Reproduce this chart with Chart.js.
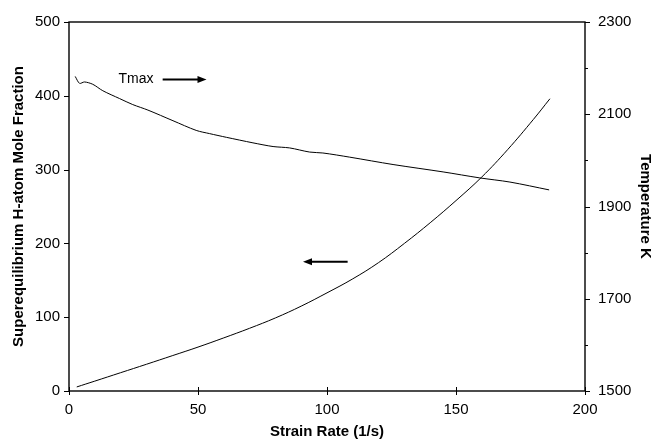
<!DOCTYPE html>
<html>
<head>
<meta charset="utf-8">
<script src="https://cdn.jsdelivr.net/npm/chart.js@4/dist/chart.umd.min.js"></script>
<style>
  html, body { margin: 0; padding: 0; background: #fff; }
  #wrap { width: 653px; height: 444px; }
</style>
</head>
<body>
<div id="wrap"><canvas id="chart" width="653" height="444"></canvas></div>
<script>
// H-atom mole fraction (left axis) vs strain rate
const strainH = [3, 10, 20, 30, 40, 50, 60, 70, 80, 90, 100, 110, 120, 130, 140, 150, 160, 170, 180, 186.4];
const hFraction = [5.5, 13.4, 24.8, 36.2, 47.8, 59.5, 72, 85, 99, 115, 133, 152, 174, 200, 228, 258, 290, 327, 368, 396];

// Max temperature (right axis) vs strain rate
const strainT = [2.4, 4.1, 6.0, 9.2, 13.1, 19.6, 24.7, 30.6, 40.3, 49.3, 54.5, 61.0, 71.3, 79.1, 85.5, 93.3, 98.4, 108.8, 125.6, 145, 159.2, 170.9, 186.1];
const tempK = [2182, 2167, 2170, 2165, 2151, 2134, 2121, 2109, 2086, 2065, 2058, 2050, 2038, 2030, 2027, 2018, 2016, 2007, 1991, 1975, 1962, 1953, 1936];

const xTicks = [0, 50, 100, 150, 200];
const yTicks = [0, 100, 200, 300, 400, 500];
const y2Ticks = [1500, 1600, 1700, 1800, 1900, 2000, 2100, 2200, 2300];

// annotations in data units (left axis)
const TMAX_LABEL = { x: 19.2, y: 422, text: "Tmax" };
const TMAX_ARROW = { from: 36.3, to: 53.3, y: 422 };
const H_ARROW = { from: 108.0, to: 90.7, y: 175 };

const FONT = "Liberation Sans, Arial, sans-serif";

const toPoints = (xs, ys) => xs.map((x, i) => ({ x, y: ys[i] }));
const isMinor = (value) => (value - 1500) % 200 !== 0;

const drawArrow = (ctx, x1, x2, y) => {
  const dir = Math.sign(x2 - x1);
  ctx.beginPath();
  ctx.moveTo(x1, y);
  ctx.lineTo(x2 - dir * 6, y);
  ctx.lineWidth = 2;
  ctx.stroke();
  ctx.beginPath();
  ctx.moveTo(x2, y);
  ctx.lineTo(x2 - dir * 9, y - 3.5);
  ctx.lineTo(x2 - dir * 9, y + 3.5);
  ctx.closePath();
  ctx.fill();
};

const framePlugin = {
  id: "frame",
  afterDraw(chart) {
    const { ctx, chartArea, scales } = chart;
    const { left, right, top, bottom } = chartArea;
    ctx.save();
    ctx.strokeStyle = "#000";
    ctx.fillStyle = "#000";
    ctx.lineWidth = 1.4;
    ctx.strokeRect(left, top, right - left, bottom - top);

    ctx.lineWidth = 1;
    ctx.beginPath();
    xTicks.forEach((v) => {
      const x = Math.round(scales.x.getPixelForValue(v)) + 0.5;
      ctx.moveTo(x, bottom - 4);
      ctx.lineTo(x, bottom + 4);
    });
    yTicks.forEach((v) => {
      const y = Math.round(scales.y.getPixelForValue(v)) + 0.5;
      ctx.moveTo(left - 5, y);
      ctx.lineTo(left, y);
    });
    y2Ticks.forEach((v) => {
      const y = Math.round(scales.y2.getPixelForValue(v)) + 0.5;
      const len = isMinor(v) ? 3 : 5;
      ctx.moveTo(right, y);
      ctx.lineTo(right + len, y);
    });
    ctx.stroke();

    // annotations
    ctx.font = `14px ${FONT}`;
    ctx.textBaseline = "middle";
    ctx.textAlign = "left";
    ctx.fillText(TMAX_LABEL.text, scales.x.getPixelForValue(TMAX_LABEL.x), scales.y.getPixelForValue(TMAX_LABEL.y));
    drawArrow(ctx, scales.x.getPixelForValue(TMAX_ARROW.from), scales.x.getPixelForValue(TMAX_ARROW.to), scales.y.getPixelForValue(TMAX_ARROW.y));
    drawArrow(ctx, scales.x.getPixelForValue(H_ARROW.from), scales.x.getPixelForValue(H_ARROW.to), scales.y.getPixelForValue(H_ARROW.y));
    ctx.restore();
  },
};

Chart.defaults.font.family = FONT;
Chart.defaults.font.size = 15;
Chart.defaults.color = "#000";

new Chart(document.getElementById("chart"), {
  type: "line",
  data: {
    datasets: [
      {
        label: "H-atom",
        data: toPoints(strainH, hFraction),
        yAxisID: "y",
        borderColor: "#000",
        borderWidth: 1,
        pointRadius: 0,
        tension: 0.4,
      },
      {
        label: "Tmax",
        data: toPoints(strainT, tempK),
        yAxisID: "y2",
        borderColor: "#000",
        borderWidth: 1,
        pointRadius: 0,
        tension: 0.3,
      },
    ],
  },
  plugins: [framePlugin],
  options: {
    responsive: false,
    animation: false,
    layout: { padding: { top: 17, left: 0, right: 0, bottom: 0 } },
    plugins: { legend: { display: false }, tooltip: { enabled: false } },
    scales: {
      x: {
        type: "linear",
        min: 0,
        max: 200,
        afterBuildTicks(axis) { axis.ticks = xTicks.map((value) => ({ value })); },
        afterFit(axis) { axis.height = 53; },
        grid: { display: false, drawTicks: false },
        border: { display: false },
        ticks: { padding: 10, color: "#000" },
        title: {
          display: true,
          text: "Strain Rate (1/s)",
          font: { weight: "bold", size: 15 },
          padding: { top: 0, bottom: 3 },
        },
      },
      y: {
        position: "left",
        min: 0,
        max: 500,
        afterBuildTicks(axis) { axis.ticks = yTicks.map((value) => ({ value })); },
        afterFit(axis) { axis.width = 69; },
        grid: { display: false, drawTicks: false },
        border: { display: false },
        ticks: { padding: 9, color: "#000" },
        title: {
          display: true,
          text: "Superequilibrium H-atom Mole Fraction",
          font: { weight: "bold", size: 15 },
          padding: { top: 10, bottom: 0 },
        },
      },
      y2: {
        position: "right",
        min: 1500,
        max: 2300,
        afterBuildTicks(axis) { axis.ticks = y2Ticks.map((value) => ({ value })); },
        afterFit(axis) { axis.width = 68; },
        grid: { display: false, drawTicks: false },
        border: { display: false },
        ticks: {
          padding: 13,
          color: "#000",
          callback: (value) => (isMinor(value) ? "" : value),
        },
        title: {
          display: true,
          text: "Temperature K",
          font: { weight: "bold", size: 15, lineHeight: 1 },
          padding: { top: 0, bottom: 0 },
        },
      },
    },
  },
});
</script>
</body>
</html>
